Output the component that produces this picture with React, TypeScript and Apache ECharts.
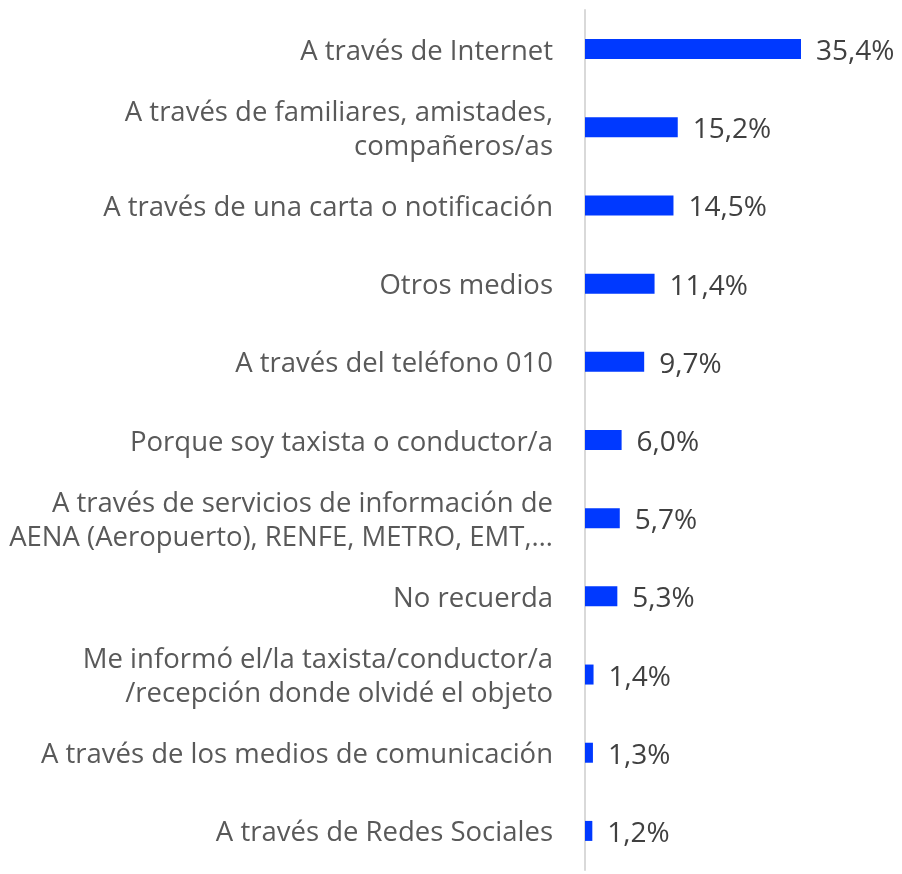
import React, { useEffect, useRef } from "react";
import * as echarts from "echarts";

const categories = [
  "A través de Internet",
  "A través de familiares, amistades,\ncompañeros/as",
  "A través de una carta o notificación",
  "Otros medios",
  "A través del teléfono 010",
  "Porque soy taxista o conductor/a",
  "A través de servicios de información de\nAENA (Aeropuerto), RENFE, METRO, EMT,…",
  "No recuerda",
  "Me informó el/la taxista/conductor/a\n/recepción donde olvidé el objeto",
  "A través de los medios de comunicación",
  "A través de Redes Sociales",
];
const values = [35.4, 15.2, 14.5, 11.4, 9.7, 6.0, 5.7, 5.3, 1.4, 1.3, 1.2];

export default function App() {
  const ref = useRef<HTMLDivElement>(null);
  useEffect(() => {
    const chart = echarts.init(ref.current!, null, { renderer: "svg" });
    chart.setOption({
      animation: false,
      grid: {
        left: 585,
        top: 10,
        bottom: 4,
        width: 244.07,
        containLabel: false,
        outerBoundsMode: "none",
      },
      xAxis: {
        type: "value",
        min: 0,
        max: 40,
        show: false,
      },
      yAxis: {
        type: "category",
        inverse: true,
        data: categories,
        axisLine: { show: true, lineStyle: { color: "#d9d9d9", width: 2 } },
        axisTick: { show: false },
        axisLabel: {
          color: "#595959",
          fontFamily: "Open Sans",
          fontSize: 27.5,
          lineHeight: 34,
          margin: 32,
          align: "right",
        },
      },
      series: [
        {
          type: "bar",
          data: values,
          barWidth: 20,
          itemStyle: { color: "#0039FF" },
          label: {
            show: true,
            position: "right",
            distance: 15,
            color: "#404040",
            fontFamily: "Open Sans",
            fontSize: 28,
            formatter: (p: any) => p.value.toFixed(1).replace(".", ",") + "%",
          },
        },
      ],
    });
    return () => chart.dispose();
  }, []);
  return (
    <div
      ref={ref}
      style={{ position: "fixed", left: 0, top: 0, width: 902, height: 874 }}
    />
  );
}
